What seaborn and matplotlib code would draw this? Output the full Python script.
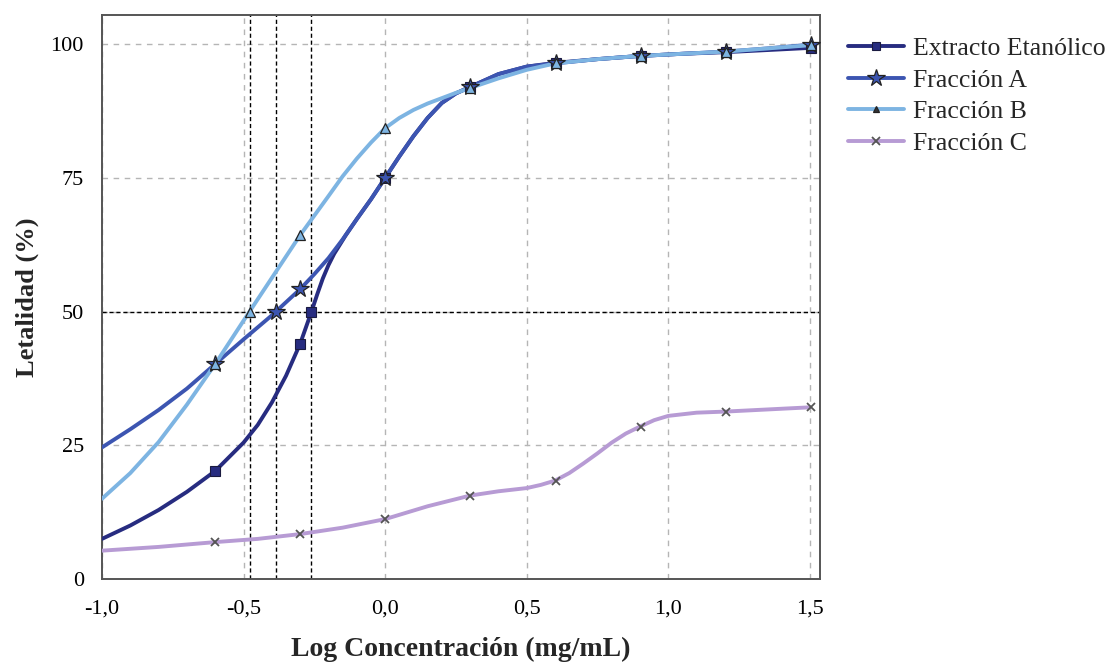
import matplotlib
matplotlib.use("Agg")
import matplotlib.pyplot as plt
from matplotlib.lines import Line2D
import seaborn as sns
import pandas as pd

# ---------------- data ----------------
series_names = ["Extracto Etanólico", "Fracción A", "Fracción B", "Fracción C"]

# smooth curves (x = log concentration, y = lethality %)
ext_curve_x = [-1.0, -0.9, -0.8, -0.7, -0.6, -0.5, -0.45, -0.4, -0.35, -0.3, -0.28, -0.26, -0.24,
               -0.22, -0.2, -0.18, -0.16, -0.14, -0.1, -0.05, 0.0, 0.05, 0.1, 0.15, 0.2, 0.25,
               0.3, 0.4, 0.5, 0.6, 0.75, 0.9, 1.05, 1.2, 1.35, 1.5]
ext_curve_y = [7.5, 10.0, 12.9, 16.3, 20.2, 25.5, 28.8, 33.0, 38.0, 44.0, 47.0, 50.0, 53.2,
               56.2, 58.7, 60.8, 62.5, 64.2, 67.3, 71.0, 75.0, 79.0, 82.8, 86.2, 89.0, 90.8,
               92.0, 94.4, 95.8, 96.5, 97.2, 97.8, 98.2, 98.5, 98.9, 99.3]

a_curve_x = [-1.0, -0.9, -0.8, -0.7, -0.6, -0.5, -0.4, -0.3, -0.25, -0.2, -0.15, -0.1, -0.05,
             0.0, 0.05, 0.1, 0.15, 0.2, 0.25, 0.3, 0.4, 0.5, 0.6, 0.75, 0.9, 1.05, 1.2, 1.35, 1.5]
a_curve_y = [24.6, 28.0, 31.6, 35.6, 40.2, 44.8, 49.3, 54.2, 57.0, 60.0, 63.5, 67.3, 71.0,
             75.0, 79.0, 82.8, 86.2, 89.0, 90.8, 92.0, 94.4, 95.8, 96.4, 97.2, 97.8, 98.2, 98.6, 99.2, 99.9]

b_curve_x = [-1.0, -0.9, -0.8, -0.7, -0.6, -0.5, -0.4, -0.3, -0.2, -0.15, -0.1, -0.05, 0.0,
             0.05, 0.1, 0.15, 0.2, 0.25, 0.3, 0.4, 0.5, 0.6, 0.75, 0.9, 1.05, 1.2, 1.35, 1.5]
b_curve_y = [15.0, 19.8, 25.6, 32.6, 40.2, 48.3, 56.3, 64.3, 71.6, 75.3, 78.6, 81.6, 84.3,
             86.2, 87.7, 88.9, 89.9, 90.9, 91.8, 93.6, 95.2, 96.4, 97.2, 97.8, 98.2, 98.6, 99.2, 99.8]

c_curve_x = [-1.0, -0.8, -0.6, -0.45, -0.3, -0.15, 0.0, 0.15, 0.3, 0.4, 0.5, 0.55, 0.6, 0.65,
             0.7, 0.75, 0.8, 0.85, 0.9, 0.95, 1.0, 1.1, 1.2, 1.35, 1.5]
c_curve_y = [5.3, 6.0, 6.9, 7.5, 8.4, 9.6, 11.2, 13.6, 15.6, 16.4, 17.0, 17.6, 18.4, 19.8,
             21.6, 23.5, 25.5, 27.2, 28.5, 29.7, 30.5, 31.1, 31.3, 31.7, 32.1]

# measured points (markers)
dose_x = [-0.602, -0.301, 0.0, 0.301, 0.602, 0.903, 1.204, 1.505]
ext_y = [20.2, 44.0, 75.0, 92.0, 96.5, 97.8, 98.6, 99.3]
a_y = [40.2, 54.2, 75.0, 92.0, 96.4, 97.8, 98.6, 99.9]
b_y = [40.2, 64.3, 84.3, 91.8, 96.4, 97.8, 98.6, 99.8]
c_y = [6.9, 8.4, 11.2, 15.6, 18.4, 28.5, 31.3, 32.1]

# LC50 (log concentration at 50 % lethality)
lc50_names = ["Fracción B", "Fracción A", "Extracto Etanólico"]
lc50_x = [-0.477, -0.385, -0.261]
lc50_y = [50, 50, 50]

x_ticks = [-1.0, -0.5, 0.0, 0.5, 1.0, 1.5]
x_tick_labels = ["-1,0", "-0,5", "0,0", "0,5", "1,0", "1,5"]
y_ticks = [0, 25, 50, 75, 100]
y_tick_labels = ["0", "25", "50", "75", "100"]

# ---------------- style ----------------
sns.set_theme(style="white")
plt.rcParams["font.family"] = ["Liberation Serif", "DejaVu Serif"]

colors = {
    "Extracto Etanólico": "#272c80",
    "Fracción A": "#3c55b1",
    "Fracción B": "#7db4e2",
    "Fracción C": "#b79bd4",
}

fig = plt.figure(figsize=(11.13, 6.64), dpi=100)
ax = fig.add_axes([0.0916, 0.128, 0.645, 0.849])

# grid
for xt in x_ticks:
    ax.axvline(xt, color="#b5b5b5", lw=1.0, ls=(0, (4, 4)), zorder=0)
for yt in y_ticks[1:]:
    ax.axhline(yt, color="#b5b5b5", lw=1.0, ls=(0, (4, 4)), zorder=0)

# LC50 guide lines
ax.axhline(50, color="black", lw=1.0, ls=(0, (3, 2)), zorder=1)
for xv in lc50_x:
    ax.axvline(xv, color="black", lw=1.0, ls=(0, (3, 2)), zorder=1)

curves = [
    ("Fracción C", c_curve_x, c_curve_y),
    ("Extracto Etanólico", ext_curve_x, ext_curve_y),
    ("Fracción A", a_curve_x, a_curve_y),
    ("Fracción B", b_curve_x, b_curve_y),
]
for name, xs, ys in curves:
    df = pd.DataFrame({"x": xs, "y": ys})
    sns.lineplot(data=df, x="x", y="y", ax=ax, color=colors[name], lw=2.8,
                 sort=False, estimator=None, zorder=3)

# markers
mk = {
    "Extracto Etanólico": dict(marker="s", ms=6.5, mfc=colors["Extracto Etanólico"], mec="#1a1a40", mew=0.8),
    "Fracción A": dict(marker="*", ms=13, mfc=colors["Fracción A"], mec="#222222", mew=0.9),
    "Fracción B": dict(marker="^", ms=6.5, mfc=colors["Fracción B"], mec="#222222", mew=0.9),
    "Fracción C": dict(marker="x", ms=6, mfc="none", mec="#555555", mew=1.3),
}
points = [
    ("Fracción C", dose_x, c_y),
    ("Extracto Etanólico", dose_x, ext_y),
    ("Fracción A", dose_x, a_y),
    ("Fracción B", dose_x, b_y),
]
for name, xs, ys in points:
    ax.plot(xs, ys, ls="none", zorder=5, **mk[name])
for name, xv, yv in zip(lc50_names, lc50_x, lc50_y):
    ax.plot([xv], [yv], ls="none", zorder=5, **mk[name])

# axes
ax.set_xlim(-1.0, 1.535)
ax.set_ylim(0, 105.4)
ax.set_xticks(x_ticks)
ax.set_xticklabels(x_tick_labels)
ax.set_yticks(y_ticks)
ax.set_yticklabels(y_tick_labels)
ax.tick_params(axis="both", direction="out", length=11, width=1.3, color="#444444",
               labelsize=16, labelcolor="black", pad=2)
ax.tick_params(axis="x", pad=4)
for sp in ax.spines.values():
    sp.set_visible(True)
    sp.set_color("#555555")
    sp.set_linewidth(1.4)
ax.set_xlabel("Log Concentración (mg/mL)", fontsize=20, fontweight="bold", labelpad=13)
ax.set_ylabel("Letalidad (%)", fontsize=19, fontweight="bold", labelpad=8)

# legend
handles = []
for name in series_names:
    m = mk[name].copy()
    if name == "Fracción B":
        m["mfc"] = "#333333"
        m["ms"] = 5
    if name == "Extracto Etanólico":
        m["ms"] = 6
    handles.append(Line2D([0], [0], color=colors[name], lw=2.8, **m))
fig.legend(handles, series_names, loc="upper left", bbox_to_anchor=(0.753, 0.960),
           frameon=False, fontsize=18.5, handlelength=2.15, handletextpad=0.38,
           labelspacing=0.34, borderaxespad=0)

fig.savefig("out.png", dpi=100)
